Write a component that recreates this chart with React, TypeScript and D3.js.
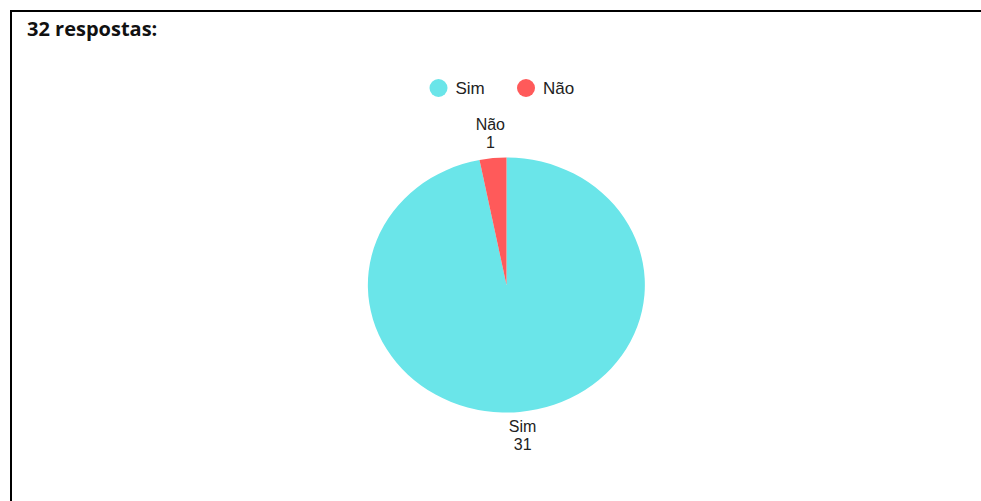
import React, { useEffect, useRef } from 'react';
import * as d3 from 'd3';

const categories = ['Sim', 'Não'];
const counts = [31, 1];
const colors = ['#6ae5e9', '#ff5a5a'];
const title = '32 respostas:';

const width = 981;
const height = 501;

type Slice = { label: string; value: number; color: string };

export default function App() {
  const ref = useRef<SVGSVGElement | null>(null);

  useEffect(() => {
    if (!ref.current) return;
    const svg = d3.select(ref.current);
    svg.selectAll('*').remove();

    // card border (runs off the right/bottom edges)
    svg.append('rect')
      .attr('x', 11)
      .attr('y', 11)
      .attr('width', 1100)
      .attr('height', 600)
      .attr('fill', '#ffffff')
      .attr('stroke', '#000000')
      .attr('stroke-width', 2);

    svg.append('text')
      .attr('x', 27)
      .attr('y', 36)
      .attr('font-family', 'Open Sans')
      .attr('font-weight', 'bold')
      .attr('font-size', 20)
      .attr('fill', '#111')
      .text(title);

    const data: Slice[] = categories.map((c, i) => ({ label: c, value: counts[i], color: colors[i] }));

    // legend
    const legendX = [438.5, 526];
    const legend = svg.append('g').attr('font-family', 'Liberation Sans, Arial').attr('font-size', 17);
    data.forEach((d, i) => {
      legend.append('circle')
        .attr('cx', legendX[i])
        .attr('cy', 88)
        .attr('r', 9)
        .attr('fill', d.color);
      legend.append('text')
        .attr('x', legendX[i] + 17)
        .attr('y', 94)
        .attr('fill', '#222')
        .text(d.label);
    });

    // pie drawn on a unit circle, stretched into an ellipse
    const cx = 506.5, cy = 285, rx = 138.5, ry = 127.5;
    const arcs = d3.pie<Slice>()
      .value((d) => d.value)
      .sort(null)(data);

    const arc = d3.arc<d3.PieArcDatum<Slice>>()
      .innerRadius(0)
      .outerRadius(1);

    const g = svg.append('g')
      .attr('transform', `translate(${cx},${cy}) scale(${rx},${ry})`);
    g.selectAll('path')
      .data(arcs)
      .join('path')
      .attr('d', arc)
      .attr('fill', (d) => d.data.color);

    // labels outside the slices
    const labelR = 1.19;
    const lbl = svg.append('g')
      .attr('font-family', 'Liberation Sans, Arial')
      .attr('font-size', 16)
      .attr('fill', '#222')
      .attr('text-anchor', 'middle');
    arcs.forEach((d) => {
      const mid = (d.startAngle + d.endAngle) / 2;
      const x = cx + Math.sin(mid) * rx * labelR;
      const y = cy - Math.cos(mid) * ry * labelR;
      lbl.append('text').attr('x', x).attr('y', y - 4).text(d.data.label);
      lbl.append('text').attr('x', x).attr('y', y + 14).text(String(d.value));
    });
  }, []);

  return (
    <svg
      ref={ref}
      width={width}
      height={height}
      style={{ position: 'absolute', left: 0, top: 0, display: 'block' }}
    />
  );
}
